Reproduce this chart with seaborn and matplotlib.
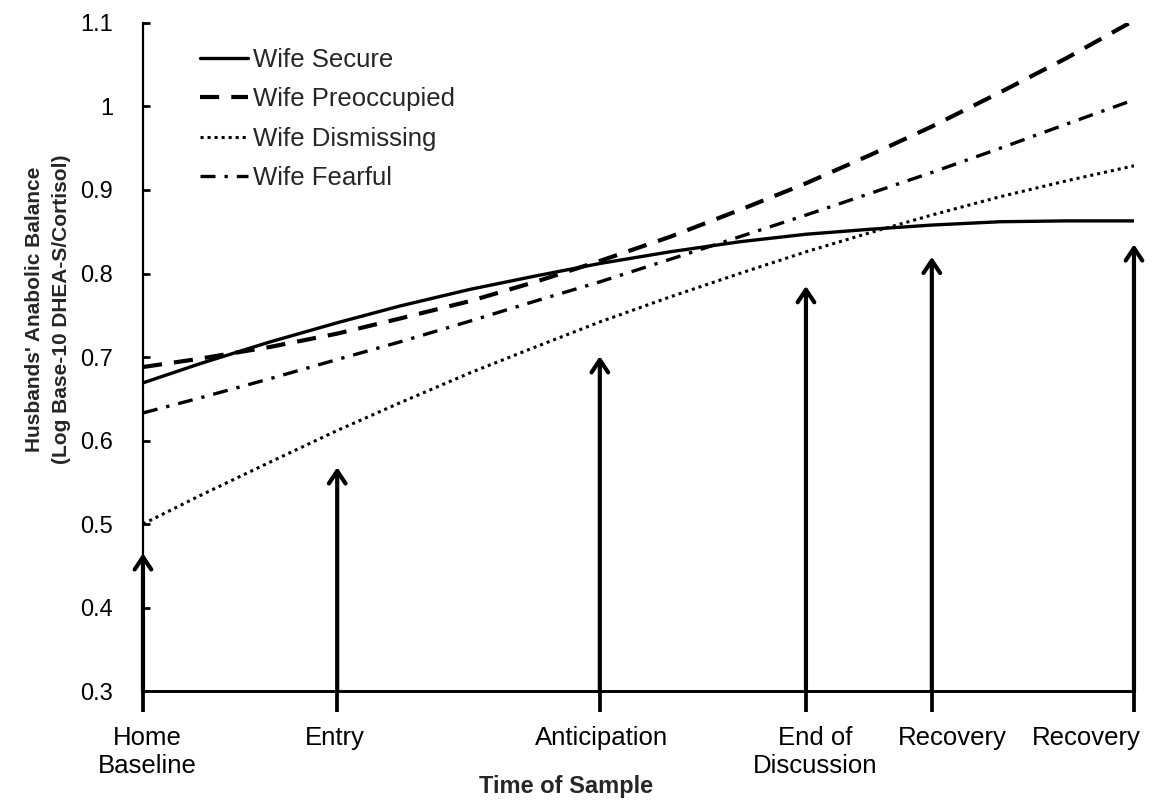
import numpy as np
import pandas as pd
import matplotlib
matplotlib.use('Agg')
import matplotlib.pyplot as plt
import matplotlib.transforms as mtransforms
import seaborn as sns

# sample points along the x axis (relative time, 0 = home baseline)
sample_labels = ['Home\nBaseline', 'Entry', 'Anticipation', 'End of\nDiscussion', 'Recovery', 'Recovery']
sample_time = [0, 19.6, 46.1, 66.9, 79.6, 100]
arrow_tips = [0.465, 0.568, 0.701, 0.785, 0.820, 0.835]

# curves
curve_time = [0, 5.75, 12.8, 19.6, 25.9, 33.0, 39.6, 46.1, 53.2, 60.2, 66.9, 73.4, 79.6, 86.5, 93.2, 100]
wife_secure = [0.669, 0.692, 0.718, 0.741, 0.761, 0.781, 0.797, 0.812, 0.826, 0.838,
               0.847, 0.853, 0.858, 0.862, 0.863, 0.863]
wife_preoccupied = [0.688, 0.698, 0.712, 0.728, 0.746, 0.767, 0.790, 0.815, 0.844, 0.876,
                    0.908, 0.942, 0.976, 1.017, 1.058, 1.103]
wife_dismissing = [0.500, 0.534, 0.574, 0.612, 0.645, 0.681, 0.712, 0.742, 0.772, 0.800,
                   0.826, 0.849, 0.870, 0.892, 0.911, 0.929]
wife_fearful = [0.633, 0.651, 0.674, 0.697, 0.718, 0.743, 0.767, 0.790, 0.817, 0.844,
                0.870, 0.896, 0.921, 0.950, 0.979, 1.008]

series = {
    'Wife Secure': wife_secure,
    'Wife Preoccupied': wife_preoccupied,
    'Wife Dismissing': wife_dismissing,
    'Wife Fearful': wife_fearful,
}
styles = {
    'Wife Secure': dict(lw=2.4, linestyle='-'),
    'Wife Preoccupied': dict(lw=3.0, linestyle=(0, (4.6, 2.9))),
    'Wife Dismissing': dict(lw=2.2, linestyle=(0, (1, 1.3))),
    'Wife Fearful': dict(lw=2.4, linestyle=(0, (4.5, 2.7, 1, 2.7))),
}

sns.set_style('ticks')
plt.rcParams['font.family'] = ['Liberation Sans', 'DejaVu Sans']

fig = plt.figure(figsize=(11.53, 8.01), dpi=100)
ax = fig.add_axes([0.124, 0.1373, 0.8595, 0.834])

for name, vals in series.items():
    df = pd.DataFrame({'time': curve_time, 'value': vals})
    sns.lineplot(data=df, x='time', y='value', ax=ax, color='black',
                 label=name, sort=False, **styles[name])

for t, tip in zip(sample_time, arrow_tips):
    ax.annotate('', xy=(t, tip), xytext=(t, 0.3),
                arrowprops=dict(arrowstyle='->,head_length=0.45,head_width=0.3',
                                lw=3, color='black', shrinkA=0, shrinkB=0,
                                mutation_scale=20))

ax.set_xlim(0, 100)
ax.set_ylim(0.3, 1.1)
ax.set_xticks(sample_time)
ax.set_xticklabels(sample_labels, fontsize=18.5)
yt = [0.3, 0.4, 0.5, 0.6, 0.7, 0.8, 0.9, 1.0, 1.1]
ax.set_yticks(yt)
ax.set_yticklabels(['0.3', '0.4', '0.5', '0.6', '0.7', '0.8', '0.9', '1', '1.1'], fontsize=17)
ax.tick_params(axis='x', direction='out', length=15, width=2.7, pad=10, colors='black')
ax.tick_params(axis='y', direction='in', length=5, width=2, pad=21.5, colors='black')

# nudge the category labels the way they sit in the original (pixels)
nudge = [4, -2, 2, 9, 21, 7]
labels = ax.get_xticklabels()
labels[-1].set_ha('right')
for lab, dx in zip(labels, nudge):
    lab.set_transform(lab.get_transform() +
                      mtransforms.ScaledTranslation(dx / 100, 0, fig.dpi_scale_trans))

sns.despine(ax=ax)
ax.spines['left'].set_linewidth(1.6)
ax.spines['bottom'].set_linewidth(2.1)
for s in ['left', 'bottom']:
    ax.spines[s].set_color('black')

ax.set_xlabel('Time of Sample', fontsize=17, fontweight='bold')
ax.set_ylabel("Husbands' Anabolic Balance\n(Log Base-10 DHEA-S/Cortisol)",
              fontsize=15, fontweight='bold', linespacing=1.5)
ax.xaxis.set_label_coords(0.427, -0.126)
ax.yaxis.set_label_coords(-0.0727, 0.572)

ax.legend(loc='upper left', bbox_to_anchor=(0.047, 0.978), frameon=False,
          fontsize=18.5, handlelength=1.87, handletextpad=0.2, labelspacing=0.6,
          borderaxespad=0)

fig.savefig('out.png', dpi=100)
